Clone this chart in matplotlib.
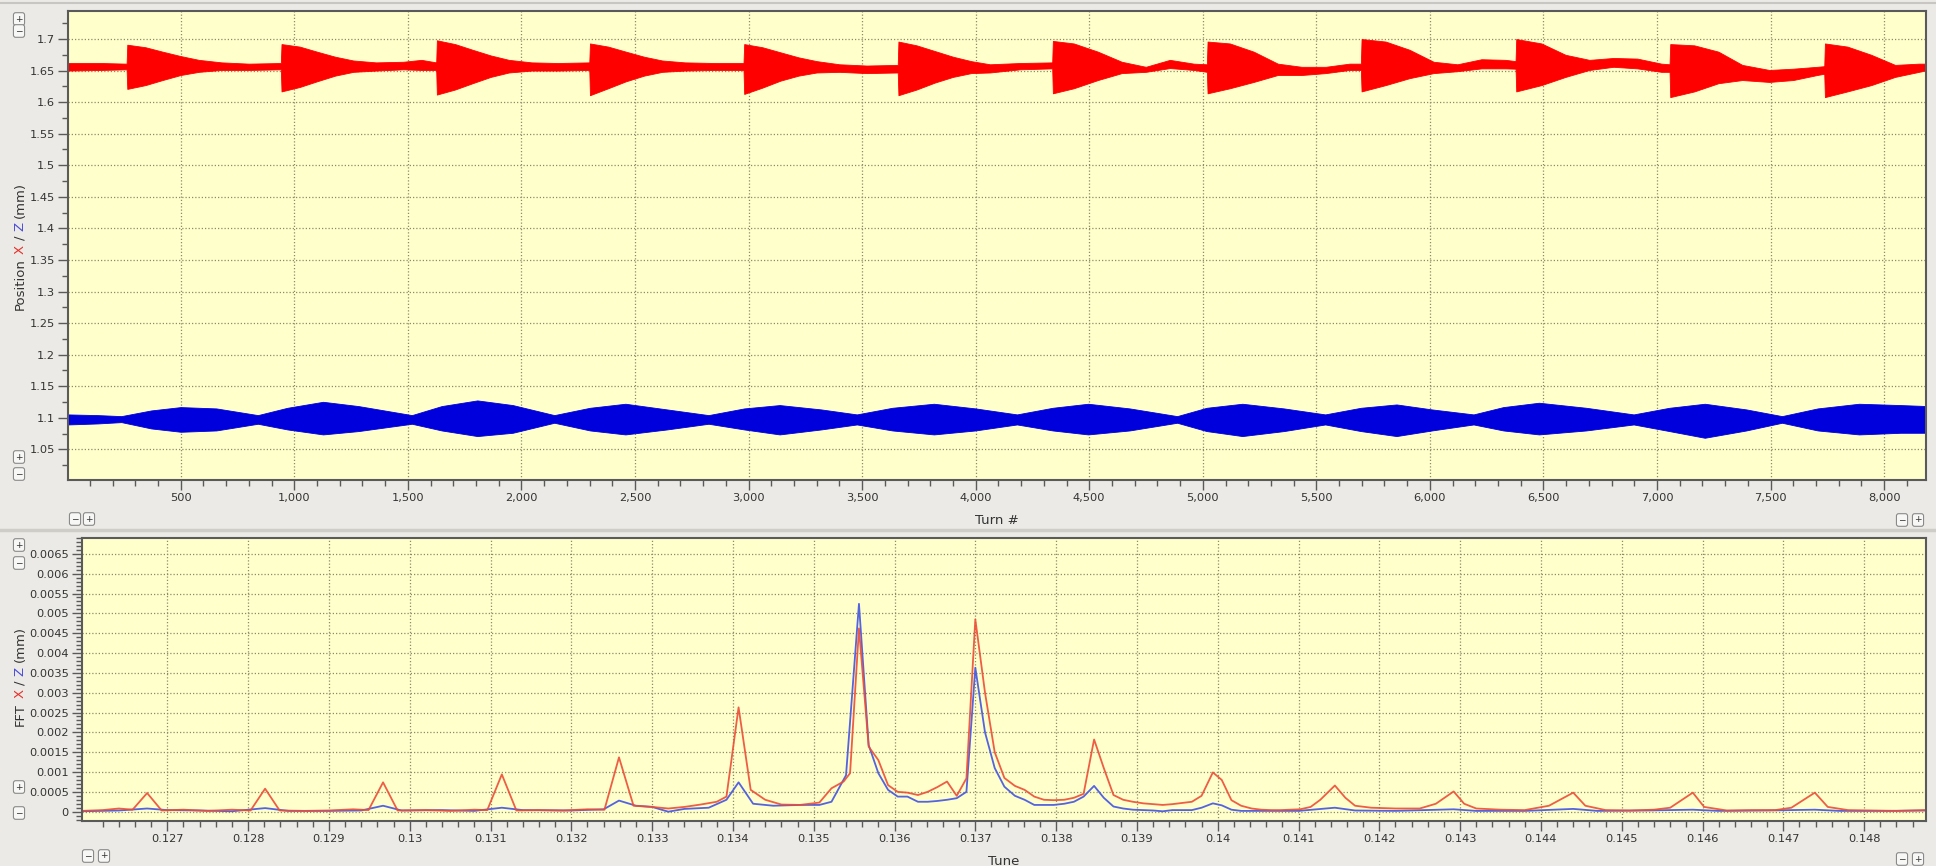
import numpy as np
import matplotlib
matplotlib.use('Agg')
import matplotlib.pyplot as plt
from matplotlib.ticker import FixedLocator, MultipleLocator, FuncFormatter
from matplotlib.lines import Line2D

# ---- top panel : turn-by-turn position, envelope (mm)
red_turn = [4, 150, 262,
            265, 345, 420, 500, 580, 680, 800, 941,
            944, 1024, 1100, 1180, 1260, 1360, 1480, 1560, 1625,
            1628, 1708, 1785, 1865, 1945, 2045, 2160, 2299,
            2302, 2382, 2460, 2540, 2620, 2720, 2850, 2978,
            2981, 3061, 3140, 3220, 3300, 3400, 3520, 3657,
            3660, 3740, 3820, 3900, 3980, 4063, 4195, 4337,
            4340, 4432, 4538, 4643, 4749, 4855, 4960, 5018,
            5021, 5119, 5224, 5330, 5435, 5541, 5646, 5696,
            5699, 5805, 5910, 6016, 6121, 6227, 6333, 6377,
            6380, 6491, 6597, 6702, 6808, 6913, 7019, 7055,
            7058, 7164, 7270, 7375, 7494, 7599, 7705, 7736,
            7739, 7838, 7943, 8048, 8153, 8190]
red_hi = [1.662, 1.662, 1.661,
          1.691, 1.687, 1.680, 1.673, 1.667, 1.663, 1.661, 1.662,
          1.692, 1.688, 1.680, 1.672, 1.666, 1.663, 1.664, 1.667, 1.663,
          1.698, 1.692, 1.683, 1.674, 1.667, 1.663, 1.662, 1.663,
          1.693, 1.688, 1.680, 1.672, 1.666, 1.663, 1.662, 1.662,
          1.692, 1.687, 1.679, 1.671, 1.665, 1.660, 1.658, 1.659,
          1.696, 1.690, 1.681, 1.672, 1.665, 1.660, 1.662, 1.663,
          1.697, 1.693, 1.680, 1.664, 1.656, 1.667, 1.661, 1.660,
          1.696, 1.693, 1.680, 1.661, 1.656, 1.656, 1.661, 1.661,
          1.700, 1.696, 1.683, 1.664, 1.660, 1.668, 1.667, 1.665,
          1.700, 1.693, 1.675, 1.667, 1.670, 1.669, 1.661, 1.660,
          1.692, 1.690, 1.680, 1.659, 1.651, 1.653, 1.656, 1.657,
          1.693, 1.688, 1.675, 1.659, 1.661, 1.661]
red_lo = [1.650, 1.651, 1.652,
          1.621, 1.627, 1.635, 1.643, 1.648, 1.651, 1.651, 1.652,
          1.617, 1.624, 1.633, 1.642, 1.648, 1.650, 1.652, 1.651, 1.651,
          1.612, 1.620, 1.630, 1.640, 1.647, 1.650, 1.650, 1.651,
          1.611, 1.622, 1.633, 1.642, 1.648, 1.650, 1.651, 1.651,
          1.613, 1.623, 1.634, 1.642, 1.647, 1.648, 1.646, 1.647,
          1.611, 1.620, 1.631, 1.640, 1.646, 1.647, 1.652, 1.6535,
          1.614, 1.622, 1.635, 1.646, 1.648, 1.654, 1.651, 1.648,
          1.614, 1.622, 1.632, 1.643, 1.643, 1.646, 1.651, 1.651,
          1.617, 1.627, 1.638, 1.646, 1.649, 1.6535, 1.6535, 1.653,
          1.617, 1.627, 1.640, 1.651, 1.656, 1.6535, 1.648, 1.648,
          1.608, 1.617, 1.630, 1.635, 1.632, 1.635, 1.643, 1.645,
          1.608, 1.617, 1.627, 1.640, 1.648, 1.651]

blue_turn = [4, 135, 239, 370, 500, 657, 840, 970, 1127, 1283, 1518, 1649, 1806,
             1962, 2145, 2302, 2458, 2641, 2824, 2981, 3137, 3320, 3477, 3633,
             3816, 3999, 4182, 4339, 4495, 4678, 4887, 5017, 5174, 5357, 5539,
             5696, 5853, 6009, 6192, 6323, 6480, 6688, 6897, 7054, 7210, 7393,
             7550, 7707, 7889, 8072, 8192]
blue_hi = [1.1053, 1.1042, 1.1026, 1.1116, 1.1169, 1.1148, 1.1042, 1.1158, 1.1253,
           1.1185, 1.1042, 1.1185, 1.1275, 1.1201, 1.1042, 1.1158, 1.1222, 1.1132,
           1.1042, 1.1148, 1.1201, 1.1132, 1.1053, 1.1158, 1.1222, 1.1148, 1.1053,
           1.1158, 1.1222, 1.1148, 1.1026, 1.1158, 1.1222, 1.1148, 1.1053, 1.1158,
           1.1211, 1.1132, 1.1053, 1.1169, 1.1238, 1.1158, 1.1053, 1.1158, 1.1222,
           1.1132, 1.1026, 1.1148, 1.1222, 1.1201, 1.1185]
blue_lo = [1.0894, 1.0910, 1.0931, 1.0831, 1.0778, 1.0799, 1.0905, 1.0815, 1.0736,
           1.0789, 1.0905, 1.0799, 1.0710, 1.0762, 1.0921, 1.0799, 1.0736, 1.0815,
           1.0905, 1.0815, 1.0736, 1.0815, 1.0894, 1.0799, 1.0736, 1.0799, 1.0894,
           1.0799, 1.0736, 1.0799, 1.0921, 1.0789, 1.0710, 1.0789, 1.0894, 1.0789,
           1.0710, 1.0799, 1.0894, 1.0799, 1.0736, 1.0799, 1.0894, 1.0789, 1.0683,
           1.0799, 1.0921, 1.0799, 1.0736, 1.0762, 1.0762]

# ---- bottom panel : FFT amplitude, in micrometres (converted to mm when drawn)
fft_red_tune = [0.12594, 0.12620, 0.12640, 0.12657, 0.12675, 0.12693, 0.12720, 0.12750,
                0.12780, 0.12803, 0.12821, 0.12839, 0.12870, 0.12900, 0.12930, 0.12949,
                0.12967, 0.12985, 0.13020, 0.13050, 0.13080, 0.13096, 0.13114, 0.13132,
                0.13160, 0.13190, 0.13220, 0.13241, 0.13259, 0.13277, 0.13300, 0.13320,
                0.13340, 0.13360, 0.13380, 0.13392, 0.13407, 0.13422, 0.13440, 0.13460,
                0.13483, 0.13507, 0.13522, 0.13537, 0.13545, 0.13556, 0.13568, 0.13580,
                0.13592, 0.13604, 0.13616, 0.13629, 0.13641, 0.13653, 0.13665, 0.13677,
                0.13689, 0.13700, 0.13712, 0.13724, 0.13736, 0.13749, 0.13761, 0.13773,
                0.13785, 0.13797, 0.13810, 0.13822, 0.13834, 0.13847, 0.13859, 0.13871,
                0.13883, 0.13895, 0.13908, 0.13920, 0.13932, 0.13944, 0.13956, 0.13968,
                0.13980, 0.13994, 0.14005, 0.14017, 0.14029, 0.14042, 0.14054, 0.14066,
                0.14078, 0.14102, 0.14115, 0.14127, 0.14145, 0.14158, 0.14170, 0.14190,
                0.14220, 0.14250, 0.14270, 0.14292, 0.14305, 0.14320, 0.14350, 0.14380,
                0.14410, 0.14440, 0.14455, 0.14480, 0.14510, 0.14540, 0.14560, 0.14588,
                0.14602, 0.14630, 0.14660, 0.14690, 0.14710, 0.14739, 0.14755, 0.14780,
                0.14810, 0.14840, 0.14877]
fft_red_um = [0.02, 0.04, 0.08, 0.05, 0.47, 0.03, 0.05, 0.02,
              0.05, 0.03, 0.58, 0.03, 0.02, 0.03, 0.06, 0.04,
              0.74, 0.03, 0.04, 0.02, 0.05, 0.04, 0.94, 0.03,
              0.04, 0.03, 0.06, 0.05, 1.37, 0.15, 0.12, 0.08,
              0.12, 0.18, 0.25, 0.38, 2.63, 0.55, 0.30, 0.18,
              0.17, 0.23, 0.59, 0.76, 0.97, 4.62, 1.64, 1.30,
              0.67, 0.50, 0.48, 0.42, 0.50, 0.62, 0.76, 0.40,
              0.84, 4.85, 3.00, 1.50, 0.85, 0.65, 0.55, 0.38,
              0.30, 0.29, 0.30, 0.35, 0.45, 1.82, 1.10, 0.42,
              0.30, 0.25, 0.21, 0.19, 0.17, 0.19, 0.22, 0.25,
              0.40, 0.99, 0.80, 0.29, 0.15, 0.08, 0.05, 0.04,
              0.04, 0.06, 0.12, 0.30, 0.66, 0.35, 0.15, 0.10,
              0.08, 0.08, 0.20, 0.51, 0.20, 0.08, 0.05, 0.04,
              0.15, 0.48, 0.15, 0.04, 0.03, 0.05, 0.10, 0.48,
              0.12, 0.03, 0.04, 0.04, 0.10, 0.48, 0.12, 0.04,
              0.03, 0.02, 0.04]

fft_blue_tune = [0.12594, 0.12640, 0.12675, 0.12700, 0.12740, 0.12780, 0.12821, 0.12850,
                 0.12900, 0.12940, 0.12967, 0.12990, 0.13040, 0.13080, 0.13114, 0.13140,
                 0.13200, 0.13240, 0.13259, 0.13280, 0.13300, 0.13320, 0.13340, 0.13370,
                 0.13392, 0.13407, 0.13425, 0.13450, 0.13483, 0.13507, 0.13522, 0.13540,
                 0.13556, 0.13568, 0.13580, 0.13592, 0.13604, 0.13616, 0.13629, 0.13641,
                 0.13653, 0.13665, 0.13677, 0.13689, 0.13700, 0.13712, 0.13724, 0.13736,
                 0.13749, 0.13761, 0.13773, 0.13785, 0.13797, 0.13810, 0.13822, 0.13834,
                 0.13847, 0.13859, 0.13871, 0.13883, 0.13895, 0.13908, 0.13920, 0.13932,
                 0.13944, 0.13956, 0.13968, 0.13980, 0.13994, 0.14005, 0.14017, 0.14029,
                 0.14060, 0.14100, 0.14145, 0.14170, 0.14220, 0.14292, 0.14320, 0.14380,
                 0.14440, 0.14470, 0.14530, 0.14588, 0.14620, 0.14680, 0.14739, 0.14770,
                 0.14830, 0.14877]
fft_blue_um = [0.01, 0.03, 0.08, 0.04, 0.03, 0.01, 0.09, 0.02,
               0.02, 0.03, 0.15, 0.03, 0.04, 0.02, 0.10, 0.04,
               0.03, 0.06, 0.28, 0.15, 0.12, 0.00, 0.07, 0.10,
               0.30, 0.74, 0.20, 0.15, 0.17, 0.17, 0.25, 0.92,
               5.24, 1.68, 0.97, 0.55, 0.38, 0.38, 0.25, 0.25,
               0.27, 0.30, 0.34, 0.50, 3.63, 2.00, 1.10, 0.63,
               0.40, 0.30, 0.17, 0.17, 0.17, 0.20, 0.25, 0.38,
               0.65, 0.35, 0.13, 0.08, 0.05, 0.04, 0.03, 0.01,
               0.04, 0.04, 0.04, 0.10, 0.21, 0.16, 0.05, 0.02,
               0.02, 0.02, 0.10, 0.03, 0.02, 0.06, 0.02, 0.02,
               0.07, 0.02, 0.03, 0.05, 0.02, 0.03, 0.05, 0.02,
               0.02, 0.03]

W, H = 1936, 866
BG = '#ebeae6'
fig = plt.figure(figsize=(W / 100, H / 100), dpi=100, facecolor=BG)


def px_box(l, t, r, b):
    return [l / W, 1 - b / H, (r - l) / W, (b - t) / H]


ax1 = fig.add_axes(px_box(68, 11, 1926, 480))
ax2 = fig.add_axes(px_box(82, 538, 1926, 821))

TXT = '#333333'


def style(ax):
    ax.set_facecolor('#ffffcc')
    for s in ax.spines.values():
        s.set_color('#5a5a5a')
        s.set_linewidth(1.5)
    ax.grid(which='major', color='#8c8c6c', linestyle=(0, (1, 1.6)), linewidth=0.9)
    ax.set_axisbelow(True)
    ax.tick_params(which='major', length=7, width=1, color='#5a5a5a',
                   labelsize=8.2, labelcolor=TXT, pad=2.5)
    ax.tick_params(which='minor', length=4, width=1, color='#5a5a5a')


style(ax1)
style(ax2)

ax1.fill_between(red_turn, red_lo, red_hi, color='#ff0000', linewidth=0.6, edgecolor='#ff0000')
ax1.fill_between(blue_turn, blue_lo, blue_hi, color='#0000dd', linewidth=0.6, edgecolor='#0000dd')
ax1.set_xlim(4, 8184)
ax1.set_ylim(1.0014, 1.7444)
ax1.xaxis.set_major_locator(FixedLocator(np.arange(500, 8001, 500)))
ax1.xaxis.set_minor_locator(MultipleLocator(100))
ax1.xaxis.set_major_formatter(FuncFormatter(lambda v, p: f'{int(round(v)):,}'))
ax1.yaxis.set_major_locator(FixedLocator(np.round(np.arange(1.05, 1.7001, 0.05), 2)))
ax1.yaxis.set_minor_locator(MultipleLocator(0.025))
ax1.yaxis.set_major_formatter(FuncFormatter(lambda v, p: f'{round(v, 3):g}'))

ax2.plot(fft_blue_tune, np.array(fft_blue_um) / 1000, color='#4b5be0', lw=1.3, alpha=0.95)
ax2.plot(fft_red_tune, np.array(fft_red_um) / 1000, color='#ec4c36', lw=1.3, alpha=0.9)
ax2.set_xlim(0.125944, 0.148766)
ax2.set_ylim(-0.000235, 0.0069)
ax2.xaxis.set_major_locator(FixedLocator(np.round(np.arange(0.127, 0.14851, 0.001), 3)))
ax2.xaxis.set_minor_locator(FixedLocator(np.round(np.arange(0.1262, 0.1488, 0.0002), 4)))
ax2.xaxis.set_major_formatter(FuncFormatter(lambda v, p: f'{round(v, 4):g}'))
ax2.yaxis.set_major_locator(FixedLocator(np.round(np.arange(0, 0.00651, 0.0005), 4)))
ax2.yaxis.set_minor_locator(MultipleLocator(0.0001))
ax2.yaxis.set_major_formatter(FuncFormatter(lambda v, p: f'{round(v, 5):g}'))

fig.text(997 / W, 1 - 520 / H, 'Turn #', ha='center', va='center', fontsize=9.5, color=TXT)
fig.text(1004 / W, 1 - 855 / H, 'Tune', ha='center', va='top', fontsize=9.5, color=TXT)


def vlabel(x, yc, parts, size=9.5):
    r = fig.canvas.get_renderer()
    ts = [fig.text(0, 0, s, rotation=90, fontsize=size, color=c, ha='center', va='bottom')
          for s, c in parts]
    hs = [t.get_window_extent(r).height for t in ts]
    gap = size * 0.33 * 100 / 72
    y = (H - yc) - (sum(hs) + gap * (len(ts) - 1)) / 2
    for t, h in zip(ts, hs):
        t.set_position((x / W, y / H))
        y += h + gap


RED_T, BLUE_T = '#e8302a', '#4a4ad8'
vlabel(20, 246, [('Position', TXT), ('X', RED_T), ('/', TXT), ('Z', BLUE_T), ('(mm)', TXT)])
vlabel(20, 676, [('FFT', TXT), ('X', RED_T), ('/', TXT), ('Z', BLUE_T), ('(mm)', TXT)])


def btn(x, y, s):
    fig.text(x / W, 1 - y / H, s, fontsize=6.5, ha='center', va='center', color=TXT,
             bbox=dict(boxstyle='round,pad=0.2,rounding_size=0.25', fc='#f7f7f5',
                       ec='#8a8a8a', lw=0.8))


for x, y, s in [(19, 19, '+'), (19, 31, '\u2212'), (19, 457, '+'), (19, 474, '\u2212'),
                (75, 519, '\u2212'), (89, 519, '+'), (1902, 520, '\u2212'), (1918, 520, '+'),
                (19, 545, '+'), (19, 563, '\u2212'), (19, 787, '+'), (19, 813, '\u2212'),
                (88, 856, '\u2212'), (104, 856, '+'), (1902, 859, '\u2212'), (1918, 859, '+')]:
    btn(x, y, s)

# panel separators
fig.add_artist(Line2D([0, 1], [1 - 3 / H, 1 - 3 / H], color='#c8c6c2', lw=1.5))
fig.add_artist(Line2D([0, 1], [1 - 530 / H, 1 - 530 / H], color='#cfcdc8', lw=2.5))

fig.savefig('out.png', dpi=100, facecolor=BG)
